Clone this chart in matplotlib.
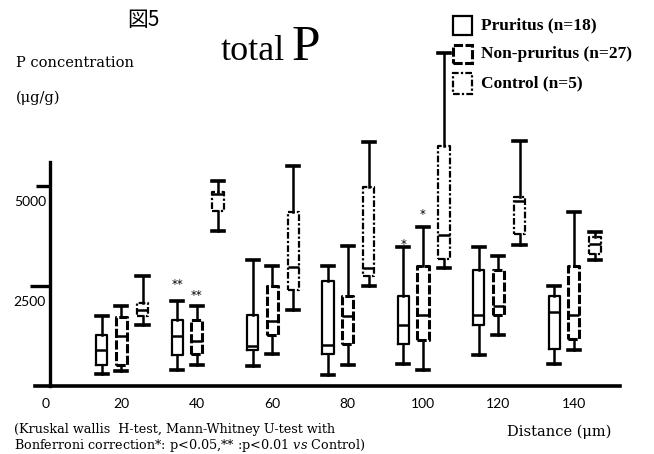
import matplotlib
matplotlib.use('Agg')
import matplotlib.pyplot as plt
from matplotlib.patches import Rectangle
from matplotlib.transforms import offset_copy

plt.rcParams['mathtext.fontset'] = 'custom'
plt.rcParams['mathtext.rm'] = 'DejaVu Serif'
plt.rcParams['mathtext.it'] = 'DejaVu Serif:italic'

# distances (um) and five-number summaries (ug/g)
distances = [20, 40, 60, 80, 100, 120, 140]

pruritus_lo = [285, 393, 500, 268, 535, 768, 543]
pruritus_q1 = [518, 768, 893, 785, 1035, 1518, 910]
pruritus_med = [893, 1250, 1000, 1018, 1518, 1768, 1850]
pruritus_q3 = [1268, 1643, 1768, 2618, 2250, 2893, 2243]
pruritus_hi = [1750, 2125, 3143, 3000, 3475, 3475, 2493]

nonpruritus_lo = [370, 518, 785, 518, 393, 1268, 893]
nonpruritus_q1 = [518, 785, 1268, 1035, 1143, 1768, 1160]
nonpruritus_med = [1250, 1118, 1625, 1750, 1768, 2000, 1768]
nonpruritus_q3 = [1725, 1643, 2500, 2250, 3000, 2893, 2993]
nonpruritus_hi = [2000, 2000, 3000, 3493, 3975, 3250, 4350]

control_lo = [1518, 3875, 1893, 2500, 2950, 3520, 3143]
control_q1 = [1743, 4370, 2393, 2750, 3160, 3790, 3285]
control_med = [1893, 4800, 2975, 2950, 3760, 4620, 3543]
control_q3 = [2075, 4850, 4350, 4980, 6000, 4720, 3725]
control_hi = [2743, 5120, 5500, 6100, 8325, 6110, 3850]

xtick_values = [0, 20, 40, 60, 80, 100, 120, 140]
ytick_values = [2500, 5000]

legend_labels = ['Pruritus (n=18)', 'Non-pruritus (n=27)', 'Control (n=5)']

# significance marks vs control
star_labels = ['**', '**', '*', '*']
star_x = [34.8, 40, 94.8, 100]
star_y = [2520, 2250, 3540, 4290]


def five_num(lo, q1, med, q3, hi):
    return [dict(whislo=a, q1=b, med=c, q3=d, whishi=e)
            for a, b, c, d, e in zip(lo, q1, med, q3, hi)]


fig = plt.figure(figsize=(6.54, 4.54), dpi=100)
ax = fig.add_axes([35 / 654, 68.3 / 454, 585 / 654, 360 / 454])
ax.set_xlim(-2.92, 152.25)
ax.set_ylim(0, 9000)

groups = [
    (five_num(pruritus_lo, pruritus_q1, pruritus_med, pruritus_q3, pruritus_hi),
     -5.2, '-', 1.6),
    (five_num(nonpruritus_lo, nonpruritus_q1, nonpruritus_med, nonpruritus_q3, nonpruritus_hi),
     0.0, (0, (3, 0.8)), 2.2),
    (five_num(control_lo, control_q1, control_med, control_q3, control_hi),
     5.6, (0, (3, 1, 1, 1)), 1.6),
]
styles = []
for stats, off, ls, lw in groups:
    ax.bxp(stats, positions=[d + off for d in distances], widths=3.0, capwidths=3.2,
           showfliers=False, manage_ticks=False,
           boxprops=dict(color='black', linewidth=lw, linestyle=ls),
           whiskerprops=dict(color='black', linewidth=1.8),
           capprops=dict(color='black', linewidth=2.6),
           medianprops=dict(color='black', linewidth=1.8))
    styles.append((ls, lw))

for s in ['top', 'right']:
    ax.spines[s].set_visible(False)
ax.spines['left'].set_position(('data', 1.06))
ax.spines['left'].set_bounds(0, 5590)
ax.spines['left'].set_linewidth(2.4)
ax.spines['bottom'].set_linewidth(2.6)

ax.set_yticks(ytick_values)
ax.tick_params(axis='y', length=10, width=2.4, labelleft=False)
ax.yaxis.get_major_ticks()[0].tick1line.set_markersize(14.4)
for v in ytick_values:
    ax.text(1.06, v, str(v), ha='right', va='center', fontsize=10, family='Lato',
            transform=offset_copy(ax.transData, fig=fig, x=-4, y=-16, units='dots'))

ax.set_xticks(xtick_values)
ax.set_xticklabels([str(v) for v in xtick_values], family='Lato', fontsize=10)
ax.tick_params(axis='x', length=0, pad=9)

for lab, x, y in zip(star_labels, star_x, star_y):
    ax.text(x, y, lab, ha='center', va='center', fontsize=8.5, family='DejaVu Sans')

# titles and labels
fig.text(143 / 654, 1 - 20 / 454, '図5', ha='center', va='center', fontsize=15,
         family=['Noto Sans CJK JP', 'DejaVu Sans'])
fig.text(221 / 654, 1 - 60 / 454, 'total', ha='left', va='baseline', fontsize=26,
         family='Liberation Serif')
fig.text(292 / 654, 1 - 60 / 454, 'P', ha='left', va='baseline', fontsize=37,
         family='Liberation Serif')
fig.text(16 / 654, 1 - 63 / 454, 'P concentration', ha='left', va='center', fontsize=10.5,
         family='DejaVu Serif')
fig.text(16 / 654, 1 - 98 / 454, '(μg/g)', ha='left', va='center', fontsize=10.5,
         family='DejaVu Serif')

# legend drawn by hand to match the original layout
legend_tops = [16, 45, 73]
legend_heights = [19, 18, 21]
for lab, (ls, lw), top, h in zip(legend_labels, styles, legend_tops, legend_heights):
    fig.patches.append(Rectangle((453 / 654, 1 - (top + h) / 454), 19 / 654, h / 454,
                                 transform=fig.transFigure, facecolor='white',
                                 edgecolor='black', linestyle=ls, linewidth=lw))
    fig.text(481 / 654, 1 - (top + h / 2) / 454, lab, ha='left', va='center',
             fontsize=12.5, fontweight='bold', family='Liberation Serif')

fig.text(14 / 654, 1 - 429 / 454, '(Kruskal wallis  H-test, Mann-Whitney U-test with',
         ha='left', va='center', fontsize=9.2, family='DejaVu Serif')
fig.text(14 / 654, 1 - 446 / 454,
         r'Bonferroni correction*: p<0.05,** :p<0.01 $\mathit{vs}$ Control)',
         ha='left', va='center', fontsize=9.2, family='DejaVu Serif')
fig.text(507 / 654, 1 - 432 / 454, 'Distance (μm)', ha='left', va='center',
         fontsize=10.5, family='DejaVu Serif')

fig.savefig('out.png', dpi=100)
